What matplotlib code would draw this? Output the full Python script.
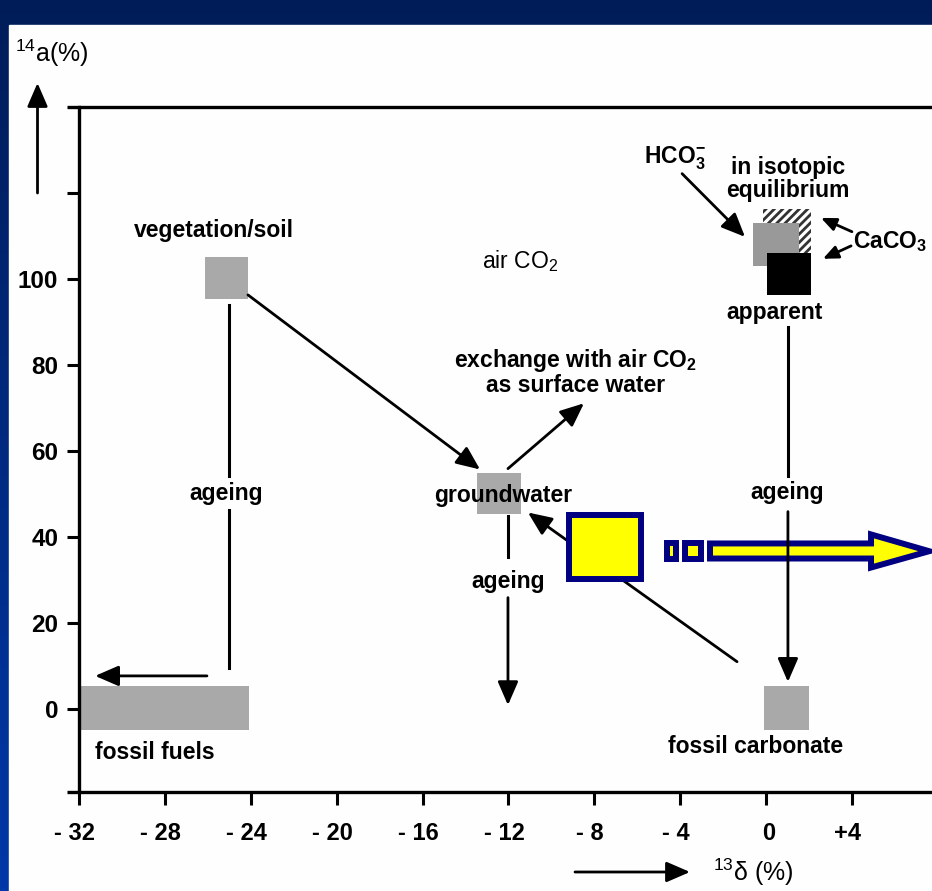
import numpy as np
import matplotlib
matplotlib.use('Agg')
import matplotlib.pyplot as plt
import matplotlib.patches as mpatches
from matplotlib.transforms import offset_copy

plt.rcParams['font.family'] = ['Liberation Sans', 'DejaVu Sans']
plt.rcParams['mathtext.default'] = 'regular'
plt.rcParams['hatch.linewidth'] = 2.0

# boxes (13C delta, 14C activity)
box_names = ['vegetation/soil', 'groundwater', 'fossil carbonate', 'fossil fuels']
box_x0 = [-26.13, -13.46, -0.10, -31.90]
box_x1 = [-24.13, -11.41, 2.00, -24.10]
box_y0 = [95.5, 45.4, -4.8, -4.8]
box_y1 = [105.2, 54.9, 5.5, 5.5]

# carbonate inset: hatched (isotopic equilibrium), grey (HCO3-), black (apparent)
inset_x0 = [-0.14, -0.61, 0.04]
inset_x1 = [2.09, 1.54, 2.09]
inset_y0 = [106.2, 103.1, 96.4]
inset_y1 = [116.4, 113.2, 106.2]

# connecting lines: x0, y0, x1, y1, with head
paths = [
    (-25.03, 94.1, -25.03, 54.4, False),
    (-25.03, 46.3, -25.03, 9.7, False),
    (-26.04, 7.8, -31.25, 7.8, True),
    (-24.13, 96.4, -13.32, 55.8, True),
    (-12.02, 56.0, -8.48, 71.2, True),
    (-12.02, 44.9, -12.02, 35.5, False),
    (-12.02, 26.0, -12.02, 1.0, True),
    (1.02, 88.9, 1.02, 54.2, False),
    (1.02, 46.0, 1.02, 6.4, True),
    (-3.91, 124.6, -0.98, 109.9, True),
]
caco3_paths = [
    (4.00, 111.1, 2.56, 114.3),
    (3.96, 107.8, 2.65, 104.8),
]
under_path = (-1.35, 11.1, -11.09, 45.8)

labels = ['vegetation/soil', 'air CO$_2$', 'exchange with air CO$_2$\nas surface water',
          'groundwater', 'ageing', 'ageing', 'ageing', 'fossil fuels', 'fossil carbonate',
          'apparent', 'in isotopic\nequilibrium', 'HCO$_3^{-}$', 'CaCO$_3$']
label_x = [-25.7, -11.46, -8.85, -12.25, -25.15, -12.0, 0.98, -28.46, -0.51, 0.42, 1.02, -4.24, 5.77]
label_y = [111.3, 104.3, 78.4, 49.8, 50.2, 29.7, 50.5, -9.9, -8.7, 92.2, 123.3, 128.1, 108.7]

xticks = [-32, -28, -24, -20, -16, -12, -8, -4, 0, 4]
xtick_labels = ['- 32', '- 28', '- 24', '- 20', '- 16', '- 12', '- 8', '- 4', '0', '+4']
yticks = [0, 20, 40, 60, 80, 100, 120]
ytick_labels = ['0', '20', '40', '60', '80', '100', '']

fig = plt.figure(figsize=(9.32, 8.91), dpi=100)

# slide background
bg = fig.add_axes([0, 0, 1, 1])
grad = np.linspace(0, 1, 256).reshape(-1, 1)
cmap = matplotlib.colors.LinearSegmentedColormap.from_list('slide', ['#001c58', '#0038a8'])
bg.imshow(grad, aspect='auto', cmap=cmap, extent=[0, 1, 0, 1], origin='upper')
bg.add_patch(mpatches.Rectangle((9 / 932, 0), 1, 1 - 25 / 891, color='#fefefe'))
bg.set_xlim(0, 1)
bg.set_ylim(0, 1)
bg.axis('off')

ax = fig.add_axes([79 / 932, 99 / 891, 853 / 932, 685 / 891])
ax.set_facecolor('none')
ax.set_xlim(-32, 7.73)
ax.set_ylim(-19.2, 140.1)
for s in ['top', 'right', 'bottom']:
    ax.spines[s].set_visible(False)
ax.spines['left'].set_linewidth(2.4)
for yy in [0, 1]:
    ax.plot([-0.014, 1], [yy, yy], transform=ax.transAxes, color='black', lw=2.4,
            clip_on=False, solid_capstyle='butt')

ax.set_yticks(yticks)
ax.set_yticklabels(ytick_labels, fontsize=17.5, fontweight='bold')
ax.set_xticks(xticks)
ax.set_xticklabels([])
ax.tick_params(axis='both', direction='out', length=9, width=2.2, pad=6)

tr = ax.get_xaxis_transform()
for xv, lab in zip(xticks, xtick_labels):
    digits = lab.replace('-', '').replace('+', '').strip()
    half = 6.5 * len(digits) + 3
    t = offset_copy(tr, fig=fig, x=half, y=-41, units='dots')
    ax.text(xv, 0, lab, transform=t, ha='right', va='center', fontsize=17,
            fontweight='bold')

# boxes
for x0, x1, y0, y1 in zip(box_x0, box_x1, box_y0, box_y1):
    ax.add_patch(mpatches.Rectangle((x0, y0), x1 - x0, y1 - y0, facecolor='#a9a9a9',
                                    edgecolor='none', zorder=2))

ax.add_patch(mpatches.Rectangle((inset_x0[0], inset_y0[0]), inset_x1[0] - inset_x0[0],
                                inset_y1[0] - inset_y0[0], facecolor='white',
                                edgecolor='#333333', lw=0, hatch='////', zorder=2))
ax.add_patch(mpatches.Rectangle((inset_x0[1], inset_y0[1]), inset_x1[1] - inset_x0[1],
                                inset_y1[1] - inset_y0[1], facecolor='#999999',
                                edgecolor='none', zorder=3))
ax.add_patch(mpatches.Rectangle((inset_x0[2], inset_y0[2]), inset_x1[2] - inset_x0[2],
                                inset_y1[2] - inset_y0[2], facecolor='black',
                                edgecolor='none', zorder=4))

head = '-|>,head_length=0.6,head_width=0.26'

# lines and arrows
for x0, y0, x1, y1, has_head in paths:
    if has_head:
        ax.annotate('', xy=(x1, y1), xytext=(x0, y0),
                    arrowprops=dict(arrowstyle=head, mutation_scale=24, lw=2, color='black',
                                    shrinkA=0, shrinkB=0), zorder=6)
    else:
        ax.plot([x0, x1], [y0, y1], color='black', lw=2.2, zorder=6)
for x0, y0, x1, y1 in caco3_paths:
    ax.annotate('', xy=(x1, y1), xytext=(x0, y0),
                arrowprops=dict(arrowstyle=head, mutation_scale=15, lw=2, color='black',
                                shrinkA=0, shrinkB=0), zorder=6)
x0, y0, x1, y1 = under_path
ax.annotate('', xy=(x1, y1), xytext=(x0, y0),
            arrowprops=dict(arrowstyle=head, mutation_scale=24, lw=2, color='black',
                            shrinkA=0, shrinkB=0), zorder=3)

for lab, xv, yv in zip(labels, label_x, label_y):
    w = 'normal' if lab == 'air CO$_2$' else 'bold'
    ax.text(xv, yv, lab, ha='center', va='center', fontsize=16.5, fontweight=w,
            linespacing=1.0, zorder=5)

# slide overlay: yellow box and block arrow
navy = '#000080'
ax.add_patch(mpatches.Rectangle((-9.18, 30.4), 3.35, 14.9, facecolor='#ffff00',
                                edgecolor=navy, lw=4.3, zorder=4))
for bx0, bw in [(-4.61, 0.42), (-3.77, 0.74)]:
    ax.add_patch(mpatches.Rectangle((bx0, 35.1), bw, 3.5, facecolor='#ffff00',
                                    edgecolor=navy, lw=4.3, zorder=4))
arrow_xy = [(-2.61, 38.6), (4.89, 38.6), (4.89, 40.7), (7.6, 36.8), (4.89, 33.0),
            (4.89, 35.1), (-2.61, 35.1)]
ax.add_patch(mpatches.Polygon(arrow_xy, closed=True, facecolor='#ffff00', edgecolor=navy,
                              lw=4.3, joinstyle='miter', zorder=4, clip_on=False))

# axis titles with arrows
fig.text(15 / 932, 1 - 53 / 891, '$^{14}$a(%)', fontsize=18, ha='left', va='center')
fig.text(713 / 932, 1 - 872 / 891, '$^{13}$δ (%)', fontsize=18, ha='left', va='center')
bg.annotate('', xy=(37.5 / 932, 1 - 83 / 891), xytext=(37.5 / 932, 1 - 193 / 891),
            arrowprops=dict(arrowstyle=head, mutation_scale=24, lw=2, color='black',
                            shrinkA=0, shrinkB=0))
bg.annotate('', xy=(690 / 932, 1 - 872 / 891), xytext=(575 / 932, 1 - 872 / 891),
            arrowprops=dict(arrowstyle=head, mutation_scale=24, lw=2, color='black',
                            shrinkA=0, shrinkB=0))

fig.savefig('out.png', dpi=100)
